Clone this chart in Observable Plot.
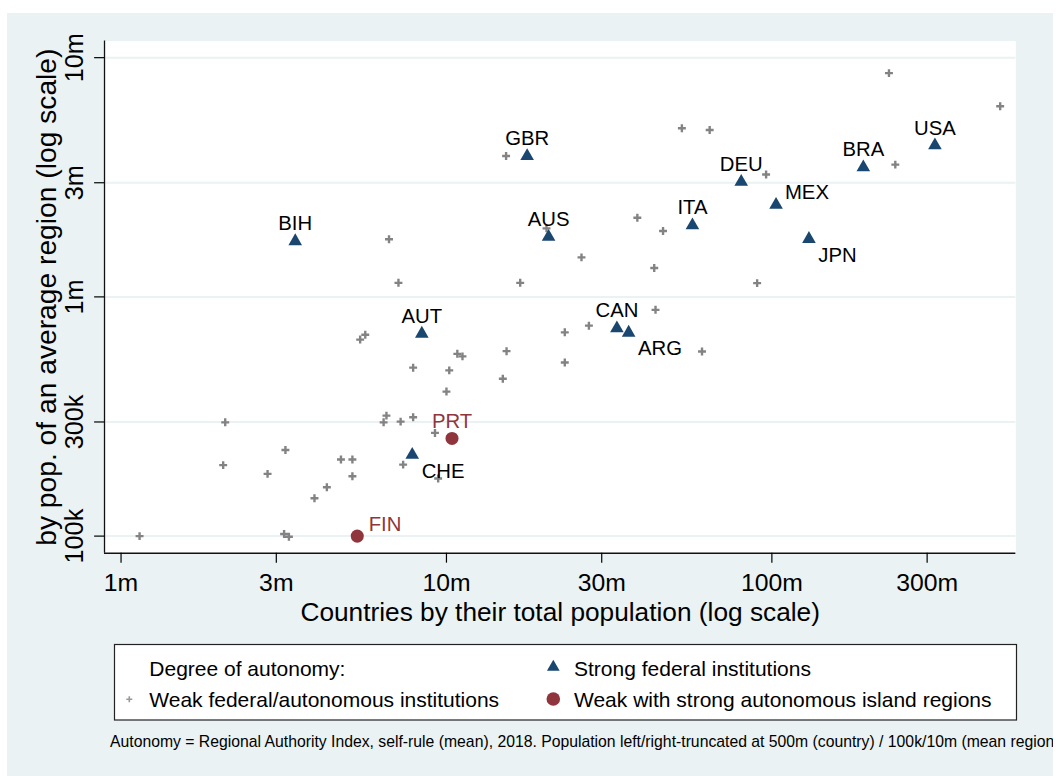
<!DOCTYPE html>
<html><head><meta charset="utf-8">
<script src="https://cdn.jsdelivr.net/npm/d3@7"></script>
<script src="https://cdn.jsdelivr.net/npm/@observablehq/plot@0.6"></script>
<style>
html,body{margin:0;padding:0;background:#fff;}
#page{position:relative;width:1063px;height:776px;overflow:hidden;font-family:"Liberation Sans",Arial,Helvetica,sans-serif;}
#bg{position:absolute;left:7px;top:13px;width:1046px;height:763px;background:#eaf2f3;overflow:hidden;}
#chart{position:absolute;left:-7px;top:-13px;}
#legend{position:absolute;left:-7px;top:617px;font-family:"Liberation Sans",Arial,Helvetica,sans-serif;}
</style></head><body>
<div id="page"><div id="bg"><div id="chart"></div><svg id="legend" width="1063" height="146"></svg></div></div>
<script>
// ---- axis ticks ----
const xTickValues = [1, 3, 10, 30, 100, 300];            // country population, millions
const xTickLabels = ["1m", "3m", "10m", "30m", "100m", "300m"];
const yTickValues = [100, 300, 1000, 3000, 10000];       // mean region population, thousands
const yTickLabels = ["100k", "300k", "1m", "3m", "10m"];

// ---- Strong federal institutions ----
const strongCodes  = ["USA", "BRA", "DEU", "MEX", "ITA", "JPN", "GBR", "AUS", "BIH", "CAN", "ARG", "AUT", "CHE"];
const strongPop    = [317, 191, 80.5, 103, 57.0, 130, 17.7, 20.6, 3.43, 33.4, 36.3, 8.40, 7.85];
const strongRegion = [4380, 3550, 3087, 2472, 2029, 1780, 3955, 1815, 1742, 753, 722, 715, 223];

// ---- Weak with strong autonomous island regions ----
const islandCodes  = ["PRT", "FIN"];
const islandPop    = [10.4, 5.32];
const islandRegion = [256, 100];

// ---- Weak federal/autonomous institutions ----
const weakPop = [229, 503, 52.9, 64.4, 239.5, 96.0, 15.25, 38.6, 46.3, 20.3, 6.66, 26.0, 43.5, 7.12, 16.85,
  90.1, 43.9, 27.4, 23.1, 23.1, 61.0, 15.3, 14.9, 5.43, 5.63, 10.8, 11.2, 7.90, 10.2, 10.0, 6.54, 6.41, 7.23,
  7.90, 9.22, 7.36, 9.43, 2.09, 2.06, 3.20, 2.82, 4.74, 5.14, 5.14, 4.29, 3.93, 1.14, 3.17, 3.28];
const weakRegion = [8618, 6266, 5068, 4985, 3571, 3246, 3880, 2142, 1886, 1934, 1742, 1463, 1321, 1145, 1145,
  1142, 883, 758, 711, 532, 591, 593, 455, 663, 695, 578, 564, 506, 493, 402, 319, 299, 301,
  314, 270, 199, 174, 299, 198, 229, 182, 209, 209, 178, 160, 144, 100, 102, 99.4];

// label placement groups (Stata-style clock positions)
const labelLowerRight = ["JPN", "ARG", "CHE"];
const labelUpperRight = ["MEX", "FIN"];

const xTitle = "Countries by their total population (log scale)";
const yTitle = "by pop. of an average region (log scale)";
const legendTitle = "Degree of autonomy:";
const legendWeak = "Weak federal/autonomous institutions";
const legendStrong = "Strong federal institutions";
const legendIsland = "Weak with strong autonomous island regions";
const caption = "Autonomy = Regional Authority Index, self-rule (mean), 2018. Population left/right-truncated at 500m (country) / 100k/10m (mean region)";

// ---- build tables ----
const strong = strongCodes.map((c, i) => ({code: c, pop: strongPop[i], region: strongRegion[i]}));
const island = islandCodes.map((c, i) => ({code: c, pop: islandPop[i], region: islandRegion[i]}));
const weak = weakPop.map((p, i) => ({pop: p, region: weakRegion[i]}));
const xLab = new Map(xTickValues.map((v, i) => [v, xTickLabels[i]]));
const yLab = new Map(yTickValues.map((v, i) => [v, yTickLabels[i]]));

const NAVY = "#1a476f", MAROON = "#90353b", GRAY = "#838383", BG = "#eaf2f3";
const xDomain = [0.8896, 562];
const yDomain = [84.8, 11728];
const pos = d => labelLowerRight.includes(d.code) ? "lr" : labelUpperRight.includes(d.code) ? "ur" : "top";
const LF = 20.5;

const chart = Plot.plot({
  width: 1063, height: 640,
  marginLeft: 105, marginRight: 38, marginTop: 41, marginBottom: 82,
  x: {type: "log", domain: xDomain},
  y: {type: "log", domain: yDomain},
  style: {background: "transparent", color: "#000", fontFamily: "'Liberation Sans', Arial, Helvetica, sans-serif", overflow: "visible"},
  marks: [
    Plot.frame({fill: "#fff", stroke: "none"}),
    Plot.ruleY(yTickValues, {stroke: BG, strokeWidth: 2}),
    Plot.ruleX([xDomain[0]], {stroke: "#111", strokeWidth: 1.3}),
    Plot.ruleY([yDomain[0]], {stroke: "#111", strokeWidth: 1.3}),
    Plot.axisX(xTickValues, {tickSize: 10, tickPadding: 10.5, tickFormat: d => xLab.get(d), fontSize: 25, label: null, strokeWidth: 1.2}),
    Plot.axisY(yTickValues, {tickSize: 10, tickPadding: 12, tickRotate: -90, textAnchor: "middle", lineAnchor: "bottom",
      tickFormat: d => yLab.get(d), fontSize: 25.5, label: null, strokeWidth: 1.2}),
    Plot.text([xTitle], {text: d => d, frameAnchor: "bottom", dy: 68, lineAnchor: "bottom", fontSize: 26.5, fill: "#000"}),
    Plot.text([yTitle], {text: d => d, frameAnchor: "left", rotate: -90, dx: -49, textAnchor: "middle", lineAnchor: "bottom", fontSize: 28.5, fill: "#000"}),
    Plot.dot(weak, {x: "pop", y: "region", symbol: "plus", r: 2.7, stroke: GRAY, strokeWidth: 2.4}),
    Plot.dot(strong, {x: "pop", y: "region", symbol: "triangle", r: 5.1, fill: NAVY, stroke: "none", dy: 2}),
    Plot.dot(island, {x: "pop", y: "region", symbol: "circle", r: 6.6, fill: MAROON, stroke: "none"}),
    Plot.text(strong.filter(d => pos(d) === "top"), {x: "pop", y: "region", text: "code", dy: -9, lineAnchor: "bottom", fontSize: LF, fill: "#000"}),
    Plot.text(strong.filter(d => pos(d) === "lr"), {x: "pop", y: "region", text: "code", dx: 9.5, dy: 25, textAnchor: "start", lineAnchor: "bottom", fontSize: LF, fill: "#000"}),
    Plot.text(strong.filter(d => pos(d) === "ur"), {x: "pop", y: "region", text: "code", dx: 9, dy: -4, textAnchor: "start", lineAnchor: "bottom", fontSize: LF, fill: "#000"}),
    Plot.text(island.filter(d => pos(d) === "top"), {x: "pop", y: "region", text: "code", dy: -11, lineAnchor: "bottom", fontSize: LF, fill: MAROON}),
    Plot.text(island.filter(d => pos(d) === "ur"), {x: "pop", y: "region", text: "code", dx: 11.5, dy: -5, textAnchor: "start", lineAnchor: "bottom", fontSize: LF, fill: MAROON})
  ]
});
document.getElementById("chart").appendChild(chart);

// ---- legend & caption ----
const lg = d3.select("#legend");
lg.append("rect").attr("x", 114.5).attr("y", 14.5).attr("width", 902).attr("height", 75.5)
  .attr("fill", "#fff").attr("stroke", "#222").attr("stroke-width", 1.2);
const txt = (s, x, y, size) => lg.append("text").attr("x", x).attr("y", y).attr("font-size", size).attr("fill", "#000").text(s);
txt(legendTitle, 149.3, 45.7, 21);
txt(legendWeak, 149.3, 76.7, 21);
txt(legendStrong, 574, 45.7, 21);
txt(legendIsland, 574, 76.7, 21);
lg.append("path").attr("d", "M-3,0H3M0,-3V3").attr("transform", "translate(129.3,69.3)")
  .attr("stroke", "#999").attr("stroke-width", 1.6).attr("fill", "none");
lg.append("path").attr("d", d3.symbol(d3.symbolTriangle, 70)()).attr("transform", "translate(553.3,37.1)").attr("fill", NAVY);
lg.append("circle").attr("cx", 553.3).attr("cy", 69).attr("r", 6.8).attr("fill", MAROON);
txt(caption, 110, 116.7, 15.75);
</script>
</body></html>
